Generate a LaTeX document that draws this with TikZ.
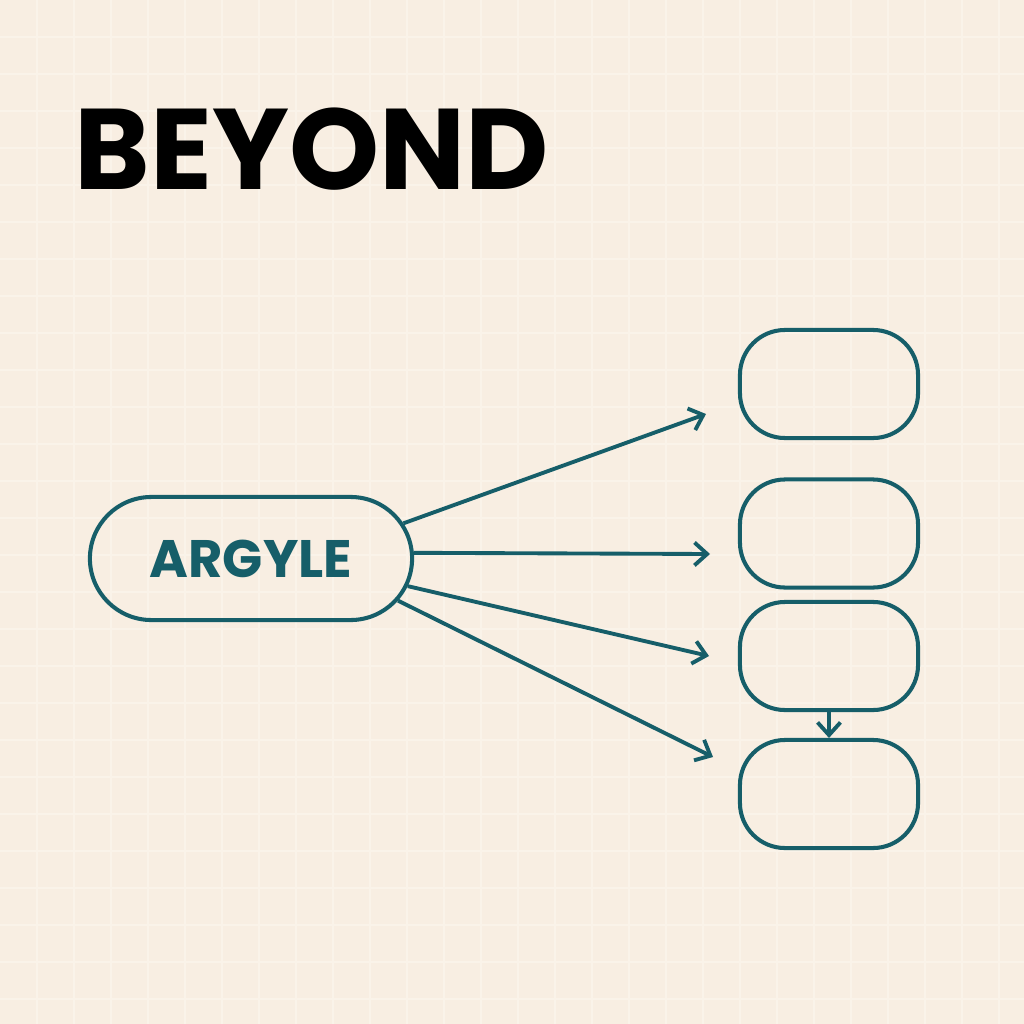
\documentclass[tikz,border=0pt]{standalone}
\usepackage{fontspec}
\newfontfamily\pop{Poppins}
\usetikzlibrary{arrows.meta,shapes.misc}
\definecolor{bgc}{HTML}{F8EEE2}
\definecolor{gridc}{HTML}{FAF3E9}
\definecolor{teal}{HTML}{165E69}
\tikzset{
  pill/.style={rounded rectangle, draw=teal, line width=1.15pt, minimum width=3.22cm, minimum height=1.23cm, inner sep=0pt, text=teal, font=\pop\bfseries\fontsize{15}{17}\selectfont},
  slot/.style={rectangle, rounded corners=0.45cm, draw=teal, line width=1.15pt, minimum width=1.78cm, minimum height=1.08cm, inner sep=0pt},
  arr/.style={draw=teal, line width=1.1pt, -{Straight Barb[length=3.6pt,width=6.5pt,line width=1.1pt]}},
  title/.style={font=\pop\bfseries\fontsize{32.6}{36}\selectfont, text=black, inner sep=0pt, anchor=base west}
}
\begin{document}
\begin{tikzpicture}[x=0.01cm,y=-0.01cm]
\useasboundingbox (0,0) rectangle (1024,1024);
\fill[bgc] (0,0) rectangle (1024,1024);
\foreach \g in {37,74,...,1024} {
  \draw[gridc, line width=0.3pt] (\g,0) -- (\g,1024);
  \draw[gridc, line width=0.3pt] (0,\g) -- (1024,\g);
}
\node[title] (t) at (74,189) {BEYOND};
\node[pill] (arg) at (251,558.5) {ARGYLE};
\node[slot] (b1) at (829,384) {};
\node[slot] (b2) at (829,533.5) {};
\node[slot] (b3) at (829,656) {};
\node[slot] (b4) at (829,794) {};
\coordinate (e1) at (706,414);
\coordinate (e2) at (710,554);
\coordinate (e3) at (709,656);
\coordinate (e4) at (713,757);
\draw[arr] (arg.13) -- (e1);
\draw[arr] (arg.2) -- (e2);
\draw[arr] (arg.-10.7) -- (e3);
\draw[arr] (arg.-16.8) -- (e4);
\draw[arr] (b3) -- (b4);
\end{tikzpicture}
\end{document}
